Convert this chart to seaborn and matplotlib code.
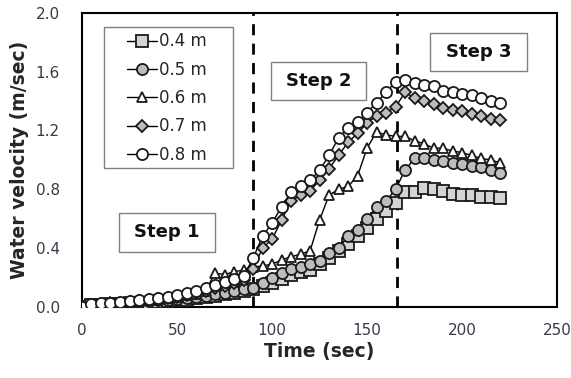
import numpy as np
import pandas as pd
import matplotlib
matplotlib.use("Agg")
import matplotlib.pyplot as plt
from matplotlib.patches import Rectangle
import seaborn as sns

time = list(range(0, 225, 5))

v_04 = [0.0, 0.01, 0.015, 0.02, 0.02, 0.025, 0.03, 0.03, 0.035, 0.04, 0.045, 0.05, 0.06, 0.065, 0.075,
        0.085, 0.095, 0.11, 0.12, 0.14, 0.16, 0.19, 0.22, 0.24, 0.25, 0.29, 0.33, 0.38, 0.43, 0.48,
        0.54, 0.60, 0.65, 0.71, 0.78, 0.78, 0.81, 0.80, 0.79, 0.77, 0.76, 0.76, 0.75, 0.745, 0.74]
v_05 = [0.0, 0.01, 0.015, 0.02, 0.025, 0.03, 0.035, 0.04, 0.045, 0.05, 0.055, 0.06, 0.07, 0.075, 0.085,
        0.095, 0.11, 0.12, 0.13, 0.16, 0.20, 0.23, 0.26, 0.27, 0.29, 0.31, 0.37, 0.40, 0.48, 0.52,
        0.60, 0.68, 0.72, 0.80, 0.93, 1.01, 1.01, 1.00, 0.99, 0.98, 0.97, 0.96, 0.95, 0.93, 0.91]
v_06 = [0.0, 0.01, 0.02, 0.025, 0.03, 0.035, 0.04, 0.05, 0.055, 0.06, 0.07, 0.08, 0.09, 0.11, 0.23,
        0.22, 0.24, 0.25, 0.27, 0.28, 0.29, 0.32, 0.34, 0.36, 0.38, 0.59, 0.76, 0.80, 0.82, 0.89,
        1.08, 1.19, 1.17, 1.16, 1.16, 1.13, 1.11, 1.08, 1.08, 1.06, 1.05, 1.03, 1.01, 1.00, 0.98]
v_07 = [0.0, 0.015, 0.02, 0.025, 0.03, 0.035, 0.04, 0.05, 0.055, 0.06, 0.07, 0.08, 0.095, 0.11, 0.13,
        0.14, 0.16, 0.18, 0.26, 0.40, 0.46, 0.59, 0.72, 0.76, 0.79, 0.86, 0.94, 1.03, 1.12, 1.18,
        1.25, 1.30, 1.32, 1.36, 1.46, 1.42, 1.40, 1.38, 1.35, 1.34, 1.33, 1.31, 1.30, 1.28, 1.27]
v_08 = [0.0, 0.02, 0.025, 0.03, 0.035, 0.04, 0.05, 0.055, 0.06, 0.07, 0.08, 0.095, 0.11, 0.13, 0.15,
        0.17, 0.19, 0.21, 0.33, 0.48, 0.57, 0.68, 0.78, 0.82, 0.86, 0.93, 1.03, 1.15, 1.22, 1.26,
        1.32, 1.39, 1.46, 1.53, 1.54, 1.52, 1.51, 1.50, 1.47, 1.46, 1.45, 1.44, 1.42, 1.40, 1.39]

labels = ["0.4 m", "0.5 m", "0.6 m", "0.7 m", "0.8 m"]
series = [v_04, v_05, v_06, v_07, v_08]
markers = ["s", "o", "^", "D", "o"]
faces = ["#d4d4d4", "#bdbdbd", "#ffffff", "#bdbdbd", "#ffffff"]
sizes = [8.0, 8.0, 7.0, 6.5, 8.0]

step_lines = [90, 166]
step_texts = ["Step 1", "Step 2", "Step 3"]
# box extents in axes fraction: (x0, y0, x1, y1)
step_boxes = [(0.078, 0.187, 0.280, 0.320),
              (0.398, 0.704, 0.598, 0.833),
              (0.733, 0.803, 0.937, 0.932)]

sns.set_style("white")
plt.rcParams['font.family'] = ['DejaVu Sans']

fig = plt.figure(figsize=(5.71, 3.78), dpi=100)
ax = fig.add_axes([0.1436, 0.188, 0.832, 0.778])

for lab, vals, m, fc, ms in zip(labels, series, markers, faces, sizes):
    df = pd.DataFrame({"Time": time, "Velocity": vals})
    sns.lineplot(data=df, x="Time", y="Velocity", ax=ax, color="black", linewidth=1.0,
                 marker=m, markersize=ms, markerfacecolor=fc, markeredgecolor="#1a1a1a",
                 markeredgewidth=1.3, label=lab, zorder=3)

for xv in step_lines:
    ax.axvline(xv, color="black", linewidth=2.0, linestyle=(0, (4, 3)), zorder=2)

for txt, (x0, y0, x1, y1) in zip(step_texts, step_boxes):
    ax.add_patch(Rectangle((x0, y0), x1 - x0, y1 - y0, transform=ax.transAxes,
                           facecolor="white", edgecolor="#808080", linewidth=1.0, zorder=4))
    ax.text((x0 + x1) / 2, (y0 + y1) / 2, txt, transform=ax.transAxes, ha="center", va="center",
            fontsize=13, fontweight="bold", color="#111111", zorder=5)

ax.set_xlim(0, 250)
ax.set_ylim(0, 2.0)
ax.set_xticks([0, 50, 100, 150, 200, 250])
ax.set_yticks([0.0, 0.4, 0.8, 1.2, 1.6, 2.0])
ax.set_yticklabels(["0.0", "0.4", "0.8", "1.2", "1.6", "2.0"])
ax.tick_params(axis="both", direction="in", length=5, width=1.2, labelsize=11, colors="black",
               labelcolor="#3a3a48")
ax.tick_params(axis="y", pad=16)
ax.tick_params(axis="x", pad=11.5)
ax.set_xlabel("Time (sec)", fontsize=13.5, fontweight="bold", labelpad=3)
ax.set_ylabel("Water velocity (m/sec)", fontsize=13.5, fontweight="bold", labelpad=5)
for s in ax.spines.values():
    s.set_color("black")
    s.set_linewidth(1.5)

# legend frame drawn as a rectangle, legend itself frameless
ax.add_patch(Rectangle((0.0463, 0.473), 0.318 - 0.0463, 0.952 - 0.473, transform=ax.transAxes,
                       facecolor="white", edgecolor="#808080", linewidth=1.0, zorder=4))
leg = ax.legend(loc="upper left", bbox_to_anchor=(0.077, 0.962), fontsize=12, frameon=False,
                handlelength=1.8, handletextpad=0.1, labelspacing=0.62, borderpad=0.5,
                borderaxespad=0)
leg.set_zorder(6)

fig.savefig("out.png", dpi=100)
